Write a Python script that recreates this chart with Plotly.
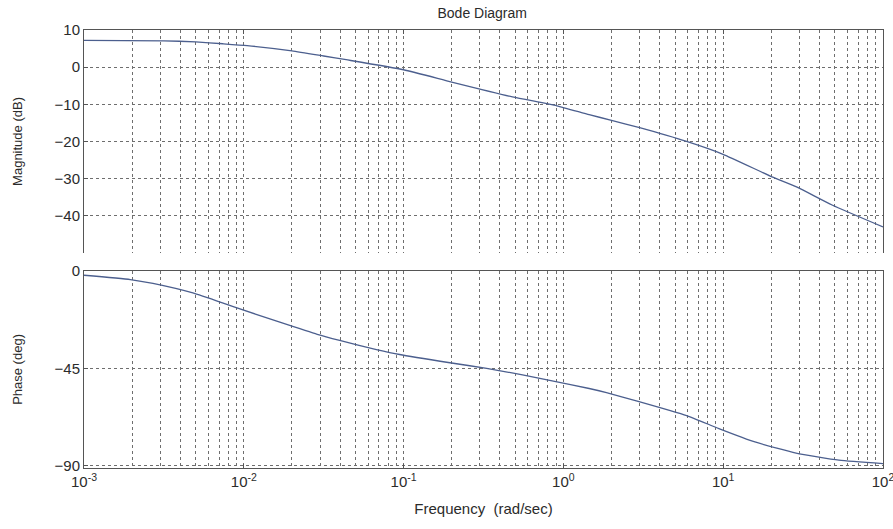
import plotly.graph_objects as go
from plotly.subplots import make_subplots

# Frequency response samples (rad/sec)
mag_freq = [0.001, 0.00316, 0.005, 0.0074, 0.0105, 0.02, 0.0316, 0.0437, 0.1, 0.2,
            0.48, 0.91, 1.45, 2.0, 3.0, 5.9, 9.9, 20.4, 29.0, 48.0, 100.0]
mag_db = [7.2, 7.1, 6.8, 6.3, 5.8, 4.4, 3.0, 2.0, -0.7, -4.0,
          -8.0, -10.4, -12.8, -14.3, -16.3, -20.0, -23.4, -29.6, -32.3, -37.1, -43.0]

phase_freq = [0.001, 0.00195, 0.0027, 0.0048, 0.0085, 0.0168, 0.0288, 0.0398, 0.0676, 0.0944,
              0.195, 0.331, 0.555, 0.85, 1.45, 1.86, 2.86, 5.9, 9.4, 16.0, 28.6, 53.0, 100.0]
phase_deg = [-2.0, -4.0, -5.8, -10.2, -16.4, -23.7, -29.3, -32.1, -36.3, -38.6,
             -42.4, -45.0, -48.0, -50.8, -54.3, -56.2, -60.0, -66.8, -72.8, -79.1, -84.1, -87.4, -89.0]

freq_ticks = [0.001, 0.01, 0.1, 1, 10, 100]
freq_labels = ["10<sup>-3</sup>", "10<sup>-2</sup>", "10<sup>-1</sup>",
               "10<sup>0</sup>", "10<sup>1</sup>", "10<sup>2</sup>"]
mag_ticks = [10, 0, -10, -20, -30, -40]
phase_ticks = [0, -45, -90]

FONT = "Liberation Sans, Arial, sans-serif"
TXT = "#2b2b2b"
GRID = "#6e6e6e"
LINE = "#4c5f8e"

fig = make_subplots(rows=2, cols=1, shared_xaxes=False, vertical_spacing=0.04)

fig.add_trace(go.Scatter(x=mag_freq, y=mag_db, mode="lines",
                         line=dict(color=LINE, width=1.3, shape="spline", smoothing=0.5),
                         showlegend=False), row=1, col=1)
fig.add_trace(go.Scatter(x=phase_freq, y=phase_deg, mode="lines",
                         line=dict(color=LINE, width=1.3, shape="spline", smoothing=0.5),
                         showlegend=False), row=2, col=1)

xcommon = dict(type="log", range=[-3, 2.0001], tickvals=freq_ticks, ticktext=freq_labels,
               showgrid=True, gridcolor=GRID, griddash="dot", gridwidth=1,
               minor=dict(dtick="D1", showgrid=True, gridcolor=GRID, griddash="dot", gridwidth=1, ticks=""),
               zeroline=False, linecolor="#555", linewidth=1, ticks="inside", ticklen=4, tickcolor="#555",
               automargin=False)

fig.update_xaxes(**xcommon, row=1, col=1)
fig.update_xaxes(showticklabels=False, showline=True, side="top", mirror=False, row=1, col=1)
fig.update_xaxes(**xcommon, row=2, col=1)
fig.update_xaxes(showticklabels=True, showline=True, mirror=True, ticklabeloverflow="allow",
                 tickfont=dict(family=FONT, size=15, color=TXT),
                 title=dict(text="Frequency&nbsp;&nbsp;(rad/sec)", font=dict(family=FONT, size=15, color=TXT), standoff=14),
                 row=2, col=1)

ycommon = dict(showgrid=True, gridcolor=GRID, griddash="dot", gridwidth=1, zeroline=False,
               showline=True, mirror=True, linecolor="#555", linewidth=1, ticks="inside", ticklen=4, tickcolor="#555",
               tickfont=dict(family=FONT, size=15, color=TXT), automargin=False)
fig.update_yaxes(**ycommon, range=[-50, 10], tickvals=mag_ticks,
                 title=dict(text="Magnitude (dB)", font=dict(family=FONT, size=13, color=TXT), standoff=28),
                 row=1, col=1)
fig.update_yaxes(**ycommon, range=[-91, 0], tickvals=phase_ticks,
                 title=dict(text="Phase (deg)", font=dict(family=FONT, size=13, color=TXT), standoff=28),
                 row=2, col=1)

fig.update_layout(
    width=893, height=529,
    margin=dict(l=84, r=10, t=30, b=61),
    paper_bgcolor="white", plot_bgcolor="white",
    title=dict(text="Bode Diagram", x=0.54, xanchor="center", y=0.975, yanchor="middle",
               font=dict(family=FONT, size=14, color=TXT)),
)
fig.layout.yaxis.domain = [0.491, 1.0]
fig.layout.yaxis2.domain = [0.0, 0.45]

fig.write_html("out.html")
